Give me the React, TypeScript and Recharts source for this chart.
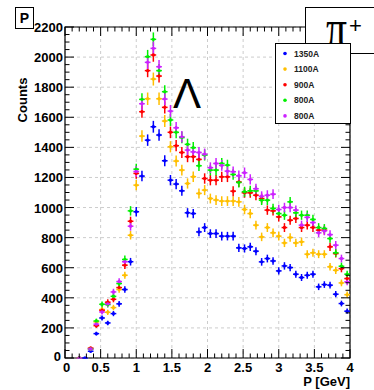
import React from "react";
import {
  ScatterChart,
  Scatter,
  XAxis,
  YAxis,
  CartesianGrid,
  ErrorBar,
  ReferenceArea,
} from "recharts";

// bin centres in P [GeV], bin width 0.08
const pBins = [
  0.04, 0.12, 0.2, 0.28, 0.36, 0.44, 0.52, 0.6, 0.68, 0.76,
  0.84, 0.92, 1.0, 1.08, 1.16, 1.24, 1.32, 1.4, 1.48, 1.56,
  1.64, 1.72, 1.8, 1.88, 1.96, 2.04, 2.12, 2.2, 2.28, 2.36,
  2.44, 2.52, 2.6, 2.68, 2.76, 2.84, 2.92, 3.0, 3.08, 3.16,
  3.24, 3.32, 3.4, 3.48, 3.56, 3.64, 3.72, 3.8, 3.88, 3.96,
];

const counts1350A = [
  null, null, null, 0, 45, 162, 266, 233, 295, 360,
  455, 640, 972, 1209, 1448, 1537, 1482, 1311, 1182, 1156,
  1111, 965, 960, 838, 867, 827, 827, 810, 810, 810,
  732, 728, 739, 710, 639, 661, 645, 579, 612, 601,
  557, 535, 550, 557, 473, 488, 484, 424, 362, 311,
];

const counts1100A = [
  null, null, 0, null, 60, 240, 322, 304, 335, 455,
  550, 816, 1149, 1475, 1723, 1854, 1723, 1575, 1404, 1309,
  1249, 1160, 1205, 1094, 1116, 1060, 1050, 1043, 1043, 1043,
  1038, 987, 960, 883, 805, 867, 832, 810, 765, 801,
  765, 772, 690, 699, 690, 690, 606, 583, 499, 421,
];

const counts900A = [
  null, null, 0, null, 66, 215, 317, 371, 390, 468,
  617, 909, 1227, 1637, 1910, 2014, 1874, 1666, 1500, 1411,
  1366, 1338, 1338, 1320, 1193, 1182, 1182, 1204, 1204, 1109,
  1170, 1098, 1098, 1082, 1060, 983, 978, 938, 867, 916,
  927, 867, 883, 867, 850, 850, 739, 694, 594, 528,
];

const counts800A = [
  null, null, 0, null, 60, 246, 357, 355, 410, 495,
  655, 978, 1255, 1719, 2003, 2118, 1910, 1770, 1582, 1500,
  1465, 1420, 1398, 1278, 1349, 1249, 1249, 1293, 1282, 1220,
  1167, 1105, 1111, 1111, 1049, 1049, 994, 960, 949, 1038,
  965, 949, 949, 921, 867, 861, 794, 699, 610, 557,
];

const counts800Ab = [
  null, null, 0, null, 60, 225, 306, 360, 439, 508,
  640, 876, 1240, 1690, 1965, 2058, 1936, 1721, 1641, 1530,
  1470, 1382, 1370, 1366, 1355, 1265, 1293, 1280, 1242, 1238,
  1211, 1231, 1187, 1125, 1075, 1082, 1089, 987, 1000, 1000,
  983, 883, 935, 900, 832, 845, 820, 750, 661, 506,
];

const seriesNames = ["1350A", "1100A", "900A", "800A", "800A"];
const seriesColors = ["#0000ff", "#ffbf00", "#ff0000", "#00f000", "#cc22ff"];
const seriesCounts = [counts1350A, counts1100A, counts900A, counts800A, counts800Ab];

const xMajorTicks = [0, 0.5, 1, 1.5, 2, 2.5, 3, 3.5, 4];
const yMajorTicks = [0, 200, 400, 600, 800, 1000, 1200, 1400, 1600, 1800, 2000, 2200];

const HALF_BIN = 0.04;

// layout
const W = 374;
const H = 390;
const PLOT_TOP = 27;
const PLOT_RIGHT = 350;
const MAJOR_LEN = 9;
const MINOR_LEN = 4.5;
const FONT = "'Liberation Sans', Arial, Helvetica, sans-serif";

function subdivide(majors: number[], n: number) {
  const out: number[] = [];
  for (let i = 0; i < majors.length - 1; i++) {
    for (let j = 0; j < n; j++) {
      out.push(Number((majors[i] + ((majors[i + 1] - majors[i]) * j) / n).toFixed(4)));
    }
  }
  out.push(majors[majors.length - 1]);
  return out;
}

const xTicks = subdivide(xMajorTicks, 5);
const yTicks = subdivide(yMajorTicks, 4);

function toPoints(values: (number | null)[]) {
  const pts: { p: number; n: number; ex: number; ey: number }[] = [];
  values.forEach((v, i) => {
    if (v === null) return;
    pts.push({ p: pBins[i], n: v, ex: HALF_BIN, ey: Math.sqrt(v) });
  });
  return pts;
}

function XTick(props: any) {
  const { x, y, payload } = props;
  const major = xMajorTicks.includes(payload.value);
  const len = major ? MAJOR_LEN : MINOR_LEN;
  return (
    <g>
      <line x1={x} x2={x} y1={y} y2={y - len} stroke="#000" strokeWidth={1} />
      <line x1={x} x2={x} y1={PLOT_TOP} y2={PLOT_TOP + len} stroke="#000" strokeWidth={1} />
      {major && (
        <text
          x={payload.value === 0 ? x + 1.5 : x}
          y={y + 14}
          textAnchor="middle"
          style={{ fontFamily: FONT, fontWeight: 700, fontSize: 13, fill: "#000" }}
        >
          {String(payload.value)}
        </text>
      )}
    </g>
  );
}

function YTick(props: any) {
  const { x, y, payload } = props;
  const major = yMajorTicks.includes(payload.value);
  const len = major ? MAJOR_LEN : MINOR_LEN;
  return (
    <g>
      <line x1={x} x2={x + len} y1={y} y2={y} stroke="#000" strokeWidth={1} />
      <line x1={PLOT_RIGHT} x2={PLOT_RIGHT - len} y1={y} y2={y} stroke="#000" strokeWidth={1} />
      {major && (
        <text
          x={payload.value === 0 ? x - 4 : x - 2}
          y={payload.value === 0 ? y + 3 : y + 5}
          textAnchor="end"
          style={{ fontFamily: FONT, fontWeight: 700, fontSize: 13, fill: "#000" }}
        >
          {String(payload.value)}
        </text>
      )}
    </g>
  );
}

function Dot(props: any) {
  const { cx, cy, fill } = props;
  return <circle cx={cx} cy={cy} r={1.7} fill={fill} />;
}

export default function App() {
  return (
    <div style={{ position: "absolute", left: 0, top: 0, width: W, height: H, background: "#fff" }}>
      <ScatterChart width={W} height={H} margin={{ top: PLOT_TOP, right: W - PLOT_RIGHT, bottom: 0, left: 0 }}>
        <CartesianGrid
          stroke="#cccccc"
          strokeDasharray="3 3"
          horizontalValues={yMajorTicks}
          verticalValues={xMajorTicks}
        />
        <XAxis
          type="number"
          dataKey="p"
          domain={[0, 4]}
          ticks={xTicks}
          interval={0}
          height={32}
          tickSize={0}
          tickMargin={0}
          axisLine={false}
          tick={(p: any) => <XTick {...p} />}
          allowDataOverflow
        />
        <YAxis
          type="number"
          dataKey="n"
          domain={[0, 2200]}
          ticks={yTicks}
          interval={0}
          width={65}
          tickSize={0}
          tickMargin={0}
          axisLine={false}
          tick={(p: any) => <YTick {...p} />}
          allowDataOverflow
        />
        <ReferenceArea
          x1={0}
          x2={4}
          y1={0}
          y2={2200}
          fill="none"
          stroke="#000"
          strokeWidth={1.2}
          ifOverflow="visible"
        />
        {seriesCounts.map((vals, i) => (
          <Scatter
            key={i}
            name={seriesNames[i]}
            data={toPoints(vals)}
            fill={seriesColors[i]}
            shape={(p: any) => <Dot {...p} fill={seriesColors[i]} />}
            isAnimationActive={false}
          >
            <ErrorBar dataKey="ey" direction="y" width={0} stroke={seriesColors[i]} strokeWidth={1.5} isAnimationActive={false} />
            <ErrorBar dataKey="ex" direction="x" width={0} stroke={seriesColors[i]} strokeWidth={1.5} isAnimationActive={false} />
          </Scatter>
        ))}
      </ScatterChart>

      <svg
        width={W}
        height={H}
        style={{ position: "absolute", left: 0, top: 0, pointerEvents: "none" }}
      >
        {/* pad label */}
        <rect x={15.5} y={7.5} width={18} height={21} fill="#fff" stroke="#000" strokeWidth={1} />
        <text x={24.5} y={23} textAnchor="middle" style={{ fontFamily: FONT, fontWeight: 700, fontSize: 14 }}>
          P
        </text>

        {/* axis titles */}
        <text
          x={27}
          y={100}
          textAnchor="middle"
          transform="rotate(-90 27 100)"
          style={{ fontFamily: FONT, fontWeight: 700, fontSize: 13 }}
        >
          Counts
        </text>
        <text x={350} y={386} textAnchor="end" style={{ fontFamily: FONT, fontWeight: 700, fontSize: 13 }}>
          P [GeV]
        </text>

        {/* Lambda marker */}
        <text x={173} y={108} style={{ fontFamily: FONT, fontSize: 42 }}>
          Λ
        </text>

        {/* particle box */}
        <rect x={305.5} y={7.5} width={90} height={46} fill="#fff" stroke="#000" strokeWidth={1} />
        <text
          x={0}
          y={0}
          transform="translate(326 46) scale(0.8 1)"
          style={{ fontFamily: "'Liberation Serif', 'Times New Roman', serif", fontSize: 52 }}
        >
          π
        </text>
        <text x={349} y={33} style={{ fontFamily: FONT, fontSize: 22 }}>
          +
        </text>

        {/* legend */}
        <rect x={275.5} y={43.5} width={75} height={80} fill="#fff" stroke="#000" strokeWidth={1} />
        {seriesNames.map((name, i) => (
          <g key={i}>
            <circle cx={285} cy={53.5 + i * 15.6} r={1.8} fill={seriesColors[i]} />
            <text
              x={294}
              y={56.5 + i * 15.6}
              style={{ fontFamily: FONT, fontWeight: 700, fontSize: 8.5, fill: "#222" }}
            >
              {name}
            </text>
          </g>
        ))}
      </svg>
    </div>
  );
}
